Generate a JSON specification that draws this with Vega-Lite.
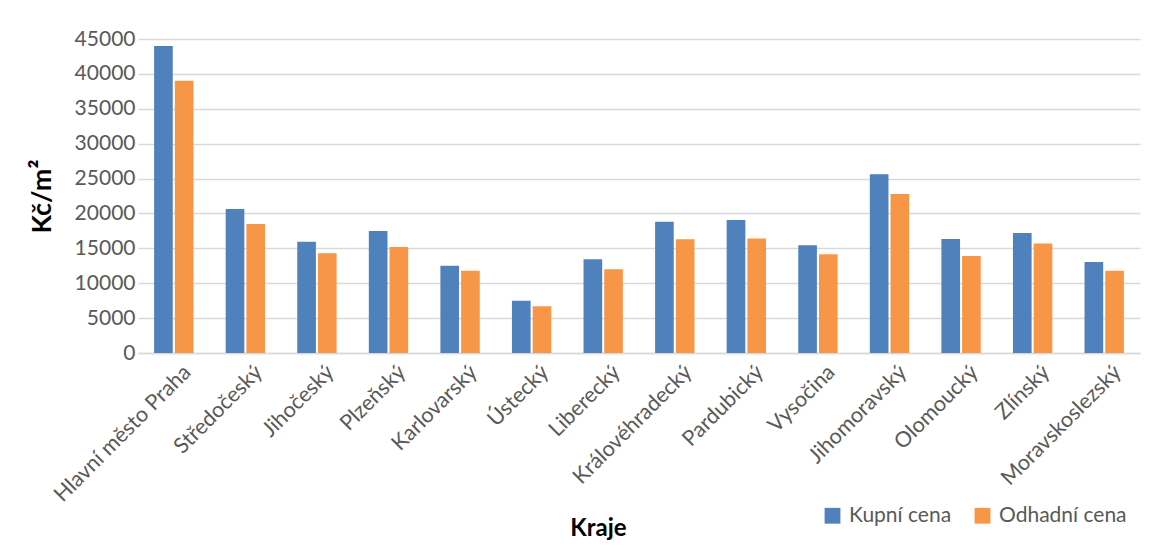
{
  "$schema": "https://vega.github.io/schema/vega-lite/v6.json",
  "autosize": {"type": "none"},
  "width": 1002,
  "height": 314,
  "padding": {"left": 138, "top": 39, "right": 17, "bottom": 204},
  "background": "white",
  "config": {
    "font": "Lato",
    "view": {"stroke": null},
    "axis": {"labelColor": "#595959", "labelFont": "Lato", "labelFontSize": 20, "titleFont": "Lato", "titleColor": "#000000"}
  },
  "data": {
    "values": [
      {"kraj": "Hlavní město Praha", "serie": "Kupní cena", "cena": 44000},
      {"kraj": "Hlavní město Praha", "serie": "Odhadní cena", "cena": 39000},
      {"kraj": "Středočeský", "serie": "Kupní cena", "cena": 20650},
      {"kraj": "Středočeský", "serie": "Odhadní cena", "cena": 18500},
      {"kraj": "Jihočeský", "serie": "Kupní cena", "cena": 15950},
      {"kraj": "Jihočeský", "serie": "Odhadní cena", "cena": 14300},
      {"kraj": "Plzeňský", "serie": "Kupní cena", "cena": 17500},
      {"kraj": "Plzeňský", "serie": "Odhadní cena", "cena": 15200},
      {"kraj": "Karlovarský", "serie": "Kupní cena", "cena": 12500},
      {"kraj": "Karlovarský", "serie": "Odhadní cena", "cena": 11800},
      {"kraj": "Ústecký", "serie": "Kupní cena", "cena": 7500},
      {"kraj": "Ústecký", "serie": "Odhadní cena", "cena": 6700},
      {"kraj": "Liberecký", "serie": "Kupní cena", "cena": 13450},
      {"kraj": "Liberecký", "serie": "Odhadní cena", "cena": 12000},
      {"kraj": "Královéhradecký", "serie": "Kupní cena", "cena": 18800},
      {"kraj": "Královéhradecký", "serie": "Odhadní cena", "cena": 16300},
      {"kraj": "Pardubický", "serie": "Kupní cena", "cena": 19050},
      {"kraj": "Pardubický", "serie": "Odhadní cena", "cena": 16400},
      {"kraj": "Vysočina", "serie": "Kupní cena", "cena": 15450},
      {"kraj": "Vysočina", "serie": "Odhadní cena", "cena": 14150},
      {"kraj": "Jihomoravský", "serie": "Kupní cena", "cena": 25600},
      {"kraj": "Jihomoravský", "serie": "Odhadní cena", "cena": 22800},
      {"kraj": "Olomoucký", "serie": "Kupní cena", "cena": 16350},
      {"kraj": "Olomoucký", "serie": "Odhadní cena", "cena": 13900},
      {"kraj": "Zlínský", "serie": "Kupní cena", "cena": 17200},
      {"kraj": "Zlínský", "serie": "Odhadní cena", "cena": 15700},
      {"kraj": "Moravskoslezský", "serie": "Kupní cena", "cena": 13050},
      {"kraj": "Moravskoslezský", "serie": "Odhadní cena", "cena": 11800}
    ]
  },
  "mark": {"type": "bar"},
  "encoding": {
    "x": {
      "field": "kraj",
      "type": "nominal",
      "sort": null,
      "scale": {"paddingInner": 0.45, "paddingOuter": 0.225},
      "axis": {
        "title": "Kraje",
        "titleFontSize": 24,
        "titleFontWeight": "bold",
        "titleX": 460,
        "titleY": 163,
        "labelAngle": -45,
        "labelAlign": "right",
        "labelBaseline": "middle",
        "labelFontSize": 21.5,
        "labelLimit": 400,
        "labelPadding": 16,
        "labelOffset": 14,
        "ticks": false,
        "domainColor": "#d9d9d9",
        "domainWidth": 1.5,
        "grid": false
      }
    },
    "xOffset": {"field": "serie", "type": "nominal", "scale": {"paddingInner": 0.1}},
    "y": {
      "field": "cena",
      "type": "quantitative",
      "scale": {"domain": [0, 45000]},
      "axis": {
        "title": "Kč/m²",
        "titleFontSize": 27,
        "titleFontWeight": "bold",
        "titleX": -82,
        "values": [0, 5000, 10000, 15000, 20000, 25000, 30000, 35000, 40000, 45000],
        "format": "d",
        "labelOverlap": false,
        "labelFontSize": 21,
        "domain": false,
        "ticks": false,
        "labelPadding": 3,
        "gridColor": "#d9d9d9",
        "gridWidth": 1.5
      }
    },
    "color": {
      "field": "serie",
      "type": "nominal",
      "scale": {"domain": ["Kupní cena", "Odhadní cena"], "range": ["#4f81bd", "#f79646"]},
      "legend": {
        "title": null,
        "orient": "none",
        "direction": "horizontal",
        "legendX": 684,
        "legendY": 466,
        "symbolType": "square",
        "symbolSize": 250,
        "symbolStrokeWidth": 0,
        "labelFontSize": 21,
        "labelColor": "#595959",
        "labelFont": "Lato",
        "columnPadding": 20,
        "labelOffset": 6
      }
    }
  }
}
